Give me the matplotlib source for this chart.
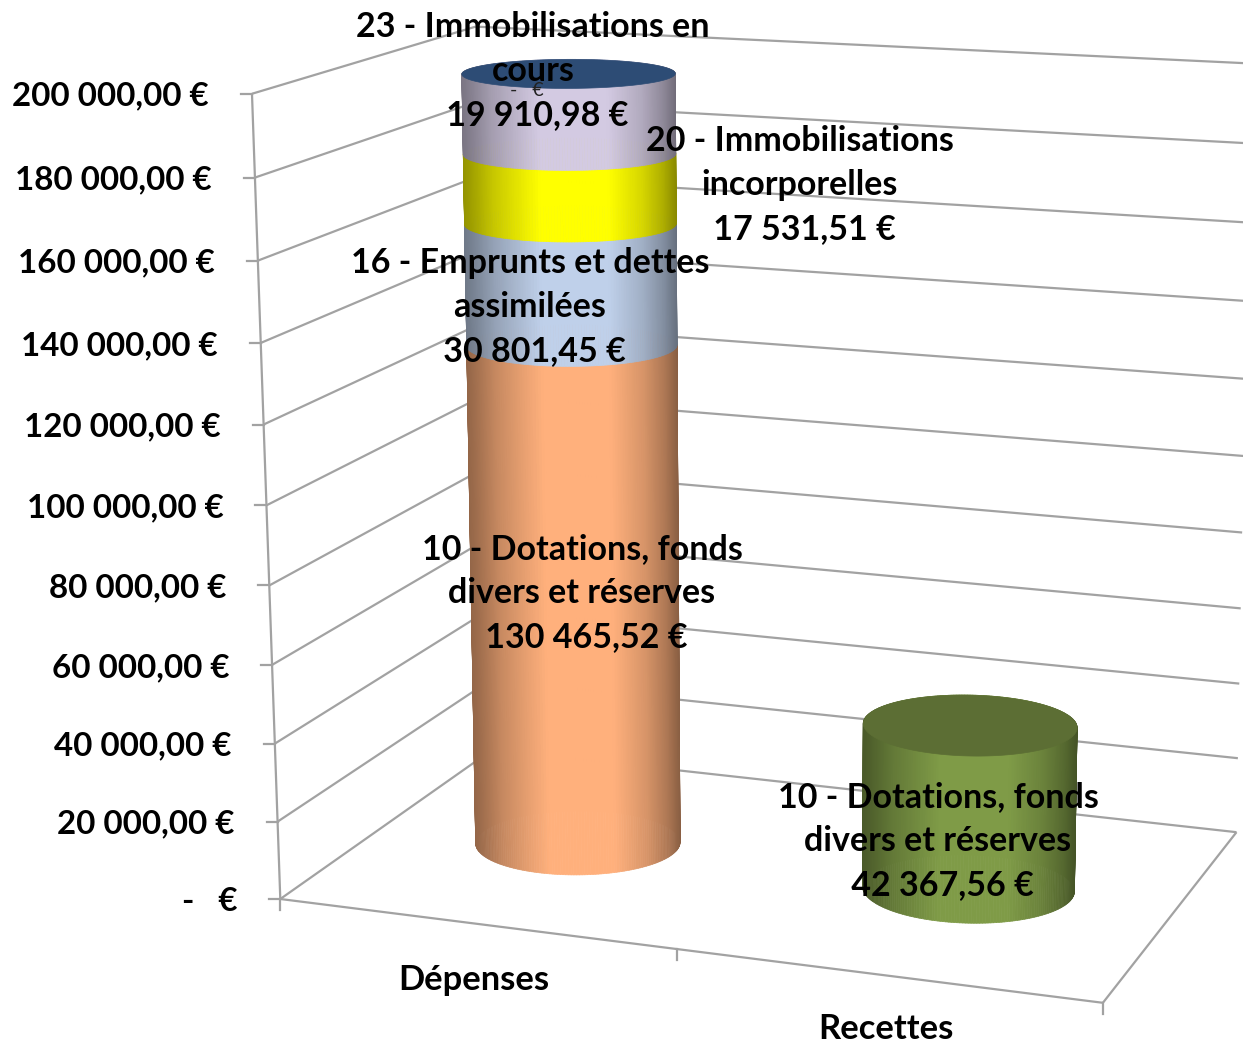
import numpy as np
import matplotlib
matplotlib.use("Agg")
import matplotlib.pyplot as plt
from matplotlib.collections import PolyCollection
from matplotlib.patches import Polygon

# ---------- data ----------
categories = ["Dépenses", "Recettes"]
depenses_values = [130465.52, 30801.45, 17531.51, 19910.98]
recettes_values = [42367.56]
depenses_colors = ["#FFB07C", "#BFD0EA", "#FFFF00", "#D3CAE2"]
recettes_colors = ["#7F9B47"]
top_colors = ["#2D4C75", "#5C6E34"]
value_ticks = [0, 20000, 40000, 60000, 80000, 100000, 120000, 140000, 160000, 180000, 200000]
value_tick_labels = ["-   €", "20 000,00 €", "40 000,00 €", "60 000,00 €", "80 000,00 €",
                     "100 000,00 €", "120 000,00 €", "140 000,00 €", "160 000,00 €",
                     "180 000,00 €", "200 000,00 €"]
data_labels = [
    "23 - Immobilisations en\ncours\n\u00a019 910,98 €",
    "20 - Immobilisations\nincorporelles\n\u00a017 531,51 €",
    "16 - Emprunts et dettes\nassimilées\n\u00a030 801,45 €",
    "10 - Dotations, fonds\ndivers et réserves\n\u00a0130 465,52 €",
    "10 - Dotations, fonds\ndivers et réserves\n\u00a042 367,56 €",
]
label_xy = [(533, 71), (800, 185), (530, 307), (582, 593), (938, 841)]
VMAX = 200000.0

# ---------- perspective camera: (category, depth, value/VMAX) -> image ----------
anchors = [
    ((0, 0, 0), (280, 898)), ((0, 0, 1), (252.7, 93)), ((0, 0, .5), (266, 507)),
    ((0, 1, 0), (492, 750)), ((0, 1, 1), (476, 26.5)),
    ((2, 0, 0), (1103, 1003)), ((1, 0, 0), (677, 949)),
    ((2, 1, 0), (1237, 831)), ((2, 1, 1), (1250, 62.5)),
    ((2, 1, .5), (1244, 458)),
]
A = []
b = []
for (X, Y, Z), (u, v) in anchors:
    A.append([X, Y, Z, 1, 0, 0, 0, 0, -u * X, -u * Y, -u * Z])
    b.append(u)
    A.append([0, 0, 0, 0, X, Y, Z, 1, -v * X, -v * Y, -v * Z])
    b.append(v)
p = np.linalg.lstsq(np.array(A, float), np.array(b, float), rcond=None)[0]
P = np.append(p, 1.0).reshape(3, 4)


def cam(x, y, z):
    x, y, z = np.broadcast_arrays(np.asarray(x, float), np.asarray(y, float), np.asarray(z, float))
    w = P @ np.stack([x.ravel(), y.ravel(), z.ravel(), np.ones(x.size)])
    return np.column_stack([w[0] / w[2], w[1] / w[2]])


GRID = "#A2A2A2"


def seg(ax, a, b, **kw):
    pts = cam([a[0], b[0]], [a[1], b[1]], [a[2], b[2]])
    ax.plot(pts[:, 0], pts[:, 1], color=GRID, lw=1.6, solid_capstyle="butt", zorder=1, **kw)


plt.rcParams["font.family"] = ["Lato", "DejaVu Sans"]
fig = plt.figure(figsize=(12.43, 10.42), dpi=100)
ax = fig.add_axes([0, 0, 1, 1])
ax.set_xlim(0, 1243)
ax.set_ylim(1042, 0)
ax.axis("off")

FS_TICK = 23.9
FS_LABEL = 24.5
FS_CAT = 24.8
# walls and floor
for v, lab in zip(value_ticks, value_tick_labels):
    z = v / VMAX
    seg(ax, (0, 0, z), (0, 1, z))
    seg(ax, (0, 1, z), (2, 1, z))
    q = cam(0, 0, z)[0]
    ax.plot([q[0] - 11, q[0]], [q[1], q[1]], color=GRID, lw=1.6, zorder=1)
    ax.text(q[0] - 43, q[1] + 2.5, lab, ha="right", va="center", fontsize=FS_TICK, fontweight="bold",
            color="black", zorder=5)
seg(ax, (0, 0, 0), (0, 0, 1))
seg(ax, (0, 0, 0), (2, 0, 0))
seg(ax, (2, 0, 0), (2, 1, 0))
for c in range(3):
    q = cam(c, 0, 0)[0]
    ax.plot([q[0], q[0]], [q[1], q[1] + 11], color=GRID, lw=1.6, zorder=1)

# cylinders
RX, RY, LEAN = 0.2515, 0.195, 0.012
SHADE_U = [0, .06, .14, .36, .68, .84, .94, 1]
SHADE_V = [.58, .66, .78, 1, 1, .84, .68, .54]
theta = np.linspace(0, 2 * np.pi, 241)


def ring(cx, z):
    return cam(cx + LEAN * z + RX * np.cos(theta), .5 + RY * np.sin(theta), z * np.ones_like(theta))


def segment(cx, v0, v1, color, zo):
    a, b = ring(cx, v0 / VMAX), ring(cx, v1 / VMAX)
    rgb = np.array(matplotlib.colors.to_rgb(color))
    order = np.argsort(-np.sin(theta[:-1] + (theta[1] - theta[0]) / 2))
    polys, cols = [], []
    for i in order:
        polys.append([a[i], a[i + 1], b[i + 1], b[i]])
        m = (a[i] + a[i + 1]) / 2
        m2 = (b[i] + b[i + 1]) / 2
        ua = (m[0] - a[:, 0].min()) / np.ptp(a[:, 0])
        ub = (m2[0] - b[:, 0].min()) / np.ptp(b[:, 0])
        cols.append(rgb * np.interp((ua + ub) / 2, SHADE_U, SHADE_V))
    ax.add_collection(PolyCollection(polys, facecolors=cols, edgecolors=cols, linewidths=.5, zorder=zo))


for ci, (vals, colors) in enumerate(((depenses_values, depenses_colors), (recettes_values, recettes_colors))):
    cx = ci + .5
    bounds = np.concatenate([[0], np.cumsum(vals)])
    for k, col in enumerate(colors):
        segment(cx, bounds[k], bounds[k + 1], col, 2 + k * .1)
    ax.add_patch(Polygon(ring(cx, bounds[-1] / VMAX), closed=True, facecolor=top_colors[ci],
                         edgecolor=top_colors[ci], lw=.5, zorder=3))

# labels
for s, (x, y) in zip(data_labels, label_xy):
    ax.text(x, y, s, ha="center", va="center", ma="center", fontsize=FS_LABEL, fontweight="bold",
            color="black", linespacing=1.45, zorder=6)
ax.text(527, 90, "-   €", ha="center", va="center", fontsize=14, color="#222222", zorder=6)
ax.text(474, 980, categories[0], ha="center", va="center", fontsize=FS_CAT, fontweight="bold", zorder=6)
ax.text(886, 1029, categories[1], ha="center", va="center", fontsize=FS_CAT, fontweight="bold", zorder=6)

fig.savefig("out.png", dpi=100, facecolor="white")
